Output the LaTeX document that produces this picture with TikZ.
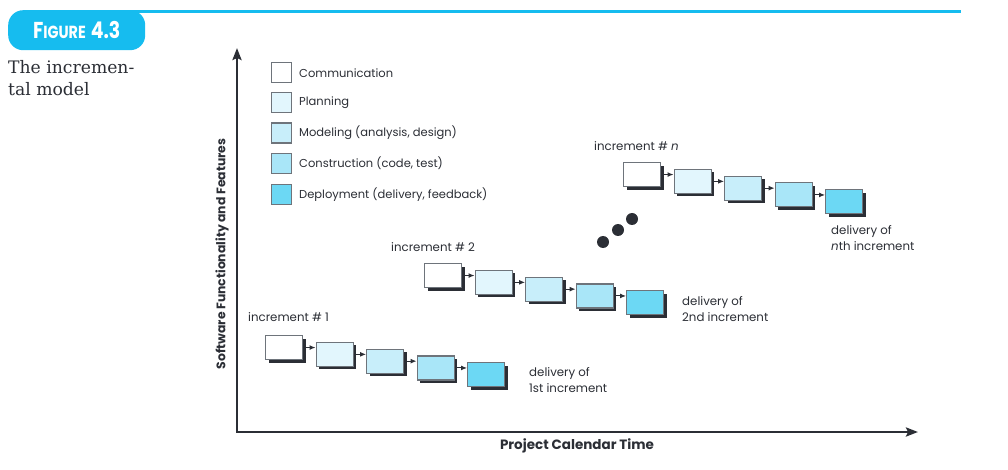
\documentclass[tikz,border=0pt]{standalone}
\usepackage{fontspec}
\setmainfont{Poppins}
\newfontfamily\slabfont{DejaVu Serif}
\usetikzlibrary{arrows.meta,shadows}
\definecolor{cyanbadge}{HTML}{16BCEF}
\definecolor{ink}{HTML}{2B2E35}
\definecolor{boxgray}{HTML}{6E747B}
\definecolor{cPlan}{HTML}{E2F6FD}
\definecolor{cModel}{HTML}{C8EEFA}
\definecolor{cCons}{HTML}{A9E6F8}
\definecolor{cDep}{HTML}{6CD8F4}
\tikzset{
  phasebox/.style={draw=boxgray, line width=1.1pt, minimum width=37, minimum height=24,
    inner sep=0pt, anchor=north west,
    drop shadow={shadow xshift=3pt, shadow yshift=-3pt, fill=ink, opacity=1}},
  legbox/.style={draw=boxgray, line width=1.1pt, minimum width=20, minimum height=20,
    inner sep=0pt, anchor=north west},
  legtext/.style={anchor=west, inner sep=0pt, text=ink, font=\fontsize{11.5}{13}\selectfont},
  lbl/.style={anchor=west, inner sep=0pt, text=ink, font=\fontsize{11.8}{15.5}\selectfont, align=left},
  flow/.style={draw=ink, line width=1pt, -{Latex[length=6pt,width=5pt]}},
  axis/.style={draw=ink, line width=2.6pt, line join=miter},
  dot/.style={circle, fill=ink, minimum size=12, inner sep=0pt},
  axlabel/.style={text=ink, inner sep=0pt, font=\bfseries}
}
\begin{document}
\begin{tikzpicture}[x=1pt,y=-1pt]
\useasboundingbox (0,0) rectangle (1008,470);
% header
\draw[cyanbadge, line width=3pt] (120,11.5) -- (961,11.5);
\node[fill=cyanbadge, rounded corners=15pt, minimum width=137, minimum height=40, inner sep=0pt,
  anchor=north west, text=white, font=\bfseries] (badge) at (8,10)
  {\scalebox{0.82}[1]{{\fontsize{23}{23}\selectfont F}{\fontsize{17.5}{17.5}\selectfont IGURE}\hspace{6pt}{\fontsize{23}{23}\selectfont 4.3}}};
\node[anchor=north west, inner sep=0pt, align=left, text=ink,
  font=\slabfont\fontsize{17.2}{22}\selectfont] (caption) at (8,60) {The incremen-\\tal model};
% axes
\coordinate (O) at (237,432);
\coordinate (ytip) at (237,48);
\coordinate (xtip) at (918,432);
\draw[axis, {Stealth[length=12pt,width=9pt,inset=2pt]}-{Stealth[length=12pt,width=9pt,inset=2pt]}] (ytip) -- (O) -- (xtip);
\node[axlabel, rotate=90, font=\fontsize{12.4}{14}\selectfont\bfseries] (ylab) at (222,254) {Software Functionality and Features};
\node[axlabel, font=\fontsize{13.5}{15}\selectfont\bfseries] (xlab) at (577,446) {Project Calendar Time};
% legend
\node[legbox, fill=white] (l1) at (271,62) {};
\node[legbox, fill=cPlan] (l2) at (271,92) {};
\node[legbox, fill=cModel] (l3) at (271,122.5) {};
\node[legbox, fill=cCons] (l4) at (271,153) {};
\node[legbox, fill=cDep] (l5) at (271,184) {};
\node[legtext] (t1) at (299,73) {Communication};
\node[legtext] (t2) at (299,102.5) {Planning};
\node[legtext] (t3) at (299,133) {Modeling (analysis, design)};
\node[legtext] (t4) at (299,163.5) {Construction (code, test)};
\node[legtext] (t5) at (299,194.5) {Deployment (delivery, feedback)};
% increments
\foreach \p/\xo/\yo in {a/265/335, b/424/263, c/623/162} {
  \node[phasebox, fill=white]  (\p1) at (\xo,\yo) {};
  \node[phasebox, fill=cPlan]  (\p2) at (\xo+50.5,\yo+6.8) {};
  \node[phasebox, fill=cModel] (\p3) at (\xo+101,\yo+13.6) {};
  \node[phasebox, fill=cCons]  (\p4) at (\xo+151.5,\yo+20.4) {};
  \node[phasebox, fill=cDep]   (\p5) at (\xo+202,\yo+27.2) {};
  \draw[flow] (\p1.east) -- (\p1.east -| \p2.west);
  \draw[flow] (\p2.east) -- (\p2.east -| \p3.west);
  \draw[flow] (\p3.east) -- (\p3.east -| \p4.west);
  \draw[flow] (\p4.east) -- (\p4.east -| \p5.west);
}
\node[lbl] (i1) at (248,317) {increment \# 1};
\node[lbl] (i2) at (391,247) {increment \# 2};
\node[lbl] (in) at (594,146) {increment \# \emph{n}};
\node[lbl] (d1) at (529,380) {delivery of\\1st increment};
\node[lbl] (d2) at (682,309) {delivery of\\2nd increment};
\node[lbl] (dn) at (831,238) {delivery of\\\emph{n}th increment};
% dots
\node[dot] (dot1) at (603,242) {};
\node[dot] (dot2) at (618,230) {};
\node[dot] (dot3) at (632,219) {};
\end{tikzpicture}
\end{document}
